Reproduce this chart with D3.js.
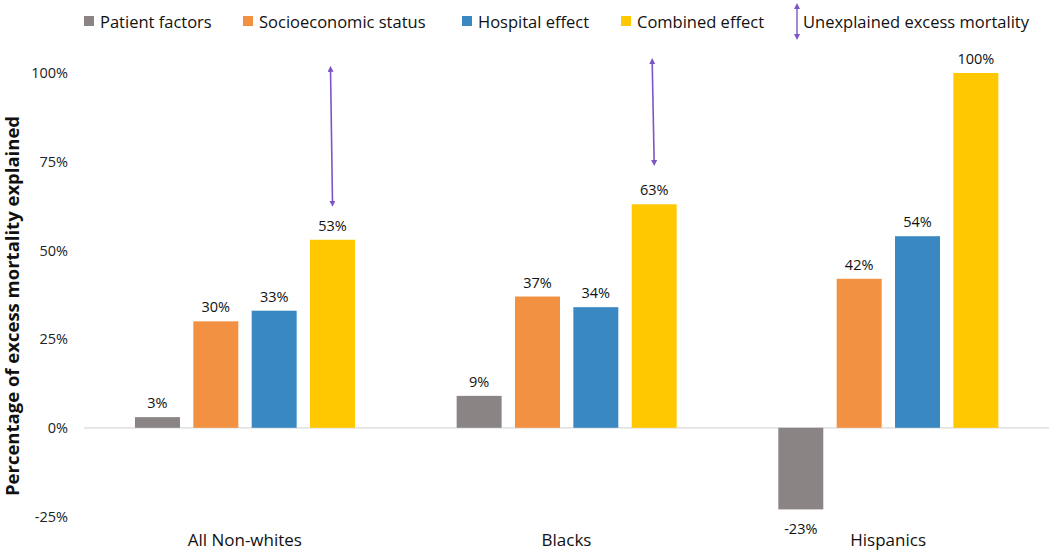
<!DOCTYPE html>
<html><head><meta charset="utf-8">
<script src="https://cdn.jsdelivr.net/npm/d3@7"></script>
<style>body{margin:0;background:#fff;} svg{display:block;font-family:"Open Sans",sans-serif;}</style>
</head><body><svg id="c" width="1050" height="552"></svg>
<script>
const categories = ["All Non-whites", "Blacks", "Hispanics"];
const seriesNames = ["Patient factors", "Socioeconomic status", "Hospital effect", "Combined effect"];
const patientFactors = [3, 9, -23];
const socioeconomic = [30, 37, 42];
const hospitalEffect = [33, 34, 54];
const combinedEffect = [53, 63, 100];
const arrowTop = [102.3, 104.5];
const arrowBottom = [62, 73.5];
const yTicks = [-25, 0, 25, 50, 75, 100];
const colors = ["#8a8484", "#f39142", "#3a88c2", "#ffc800"];
const arrowColor = "#7e55c4";
const legendArrowLabel = "Unexplained excess mortality";

const values = [patientFactors, socioeconomic, hospitalEffect, combinedEffect];
const svg = d3.select("#c");
const y = d3.scaleLinear().domain([-25, 100]).range([516.5, 73]);
const x0 = d3.scaleBand().domain(categories).range([84, 1049]);
const bw = x0.bandwidth();
const x1 = d3.scaleBand().domain(seriesNames).range([bw * 0.1585, bw * 0.8425]).paddingInner(0.229);

const defs = svg.append("defs");
["s", "e"].forEach(k => {
  defs.append("marker").attr("id", "m" + k).attr("viewBox", "0 0 10 10")
    .attr("refX", 5).attr("refY", 5).attr("markerWidth", 6).attr("markerHeight", 6)
    .attr("orient", "auto-start-reverse").attr("markerUnits", "userSpaceOnUse")
    .append("path").attr("d", "M0,0 L10,5 L0,10 Z").attr("fill", arrowColor);
});

const yAxis = d3.axisLeft(y).tickValues(yTicks).tickFormat(d => d + "%").tickSize(0).tickPadding(0);
const ga = svg.append("g").attr("transform", "translate(68,0)").call(yAxis);
ga.select(".domain").remove();
ga.selectAll("text").attr("font-size", 14.5).attr("fill", "#222").attr("font-family", "Open Sans, sans-serif");

svg.append("line").attr("x1", 84).attr("x2", 1049).attr("y1", y(0)).attr("y2", y(0))
  .attr("stroke", "#d9d9d9").attr("stroke-width", 1.2);

const groups = svg.selectAll("g.grp").data(categories).enter().append("g")
  .attr("class", "grp").attr("transform", d => `translate(${x0(d)},0)`);
groups.each(function(cat, ci) {
  const g = d3.select(this);
  seriesNames.forEach((s, si) => {
    const v = values[si][ci];
    g.append("rect").attr("x", x1(s)).attr("width", x1.bandwidth())
      .attr("y", y(Math.max(0, v))).attr("height", Math.abs(y(v) - y(0)))
      .attr("fill", colors[si]);
    g.append("text").attr("x", x1(s) + x1.bandwidth() / 2)
      .attr("y", v >= 0 ? y(v) - 9 : y(v) + 25)
      .attr("text-anchor", "middle").attr("font-size", 14.5).attr("fill", "#111")
      .text(v + "%");
  });
});

arrowTop.forEach((t, i) => {
  const cx = x0(categories[i]) + x1(seriesNames[3]) + x1.bandwidth() / 2 - 1;
  svg.append("line").attr("x1", cx - 1).attr("x2", cx + 1).attr("y1", y(t) + 4).attr("y2", y(arrowBottom[i]) - 4)
    .attr("stroke", arrowColor).attr("stroke-width", 1.6)
    .attr("marker-start", "url(#ms)").attr("marker-end", "url(#me)");
});

const xAxis = d3.axisBottom(x0).tickSize(0).tickPadding(0);
const gx = svg.append("g").attr("transform", "translate(0,536)").call(xAxis);
gx.select(".domain").remove();
gx.selectAll("text").attr("font-size", 17).attr("fill", "#111").attr("font-family", "Open Sans, sans-serif")
  .attr("dy", "0.3em").attr("y", 5);

svg.append("text").attr("transform", "translate(19,306) rotate(-90)").attr("text-anchor", "middle")
  .attr("font-size", 18.5).attr("font-weight", "bold").attr("fill", "#111")
  .text("Percentage of excess mortality explained");

const legX = [84, 243, 462, 621];
seriesNames.forEach((s, i) => {
  svg.append("rect").attr("x", legX[i]).attr("y", 16).attr("width", 10).attr("height", 10).attr("fill", colors[i]);
  svg.append("text").attr("x", legX[i] + 16).attr("y", 28).attr("font-size", 16.5).attr("fill", "#111").text(s);
});
svg.append("line").attr("x1", 797).attr("x2", 797).attr("y1", 6).attr("y2", 37)
  .attr("stroke", arrowColor).attr("stroke-width", 1.4)
  .attr("marker-start", "url(#ms)").attr("marker-end", "url(#me)");
svg.append("text").attr("x", 803).attr("y", 28).attr("font-size", 16.5).attr("fill", "#111").text(legendArrowLabel);
</script></body></html>
